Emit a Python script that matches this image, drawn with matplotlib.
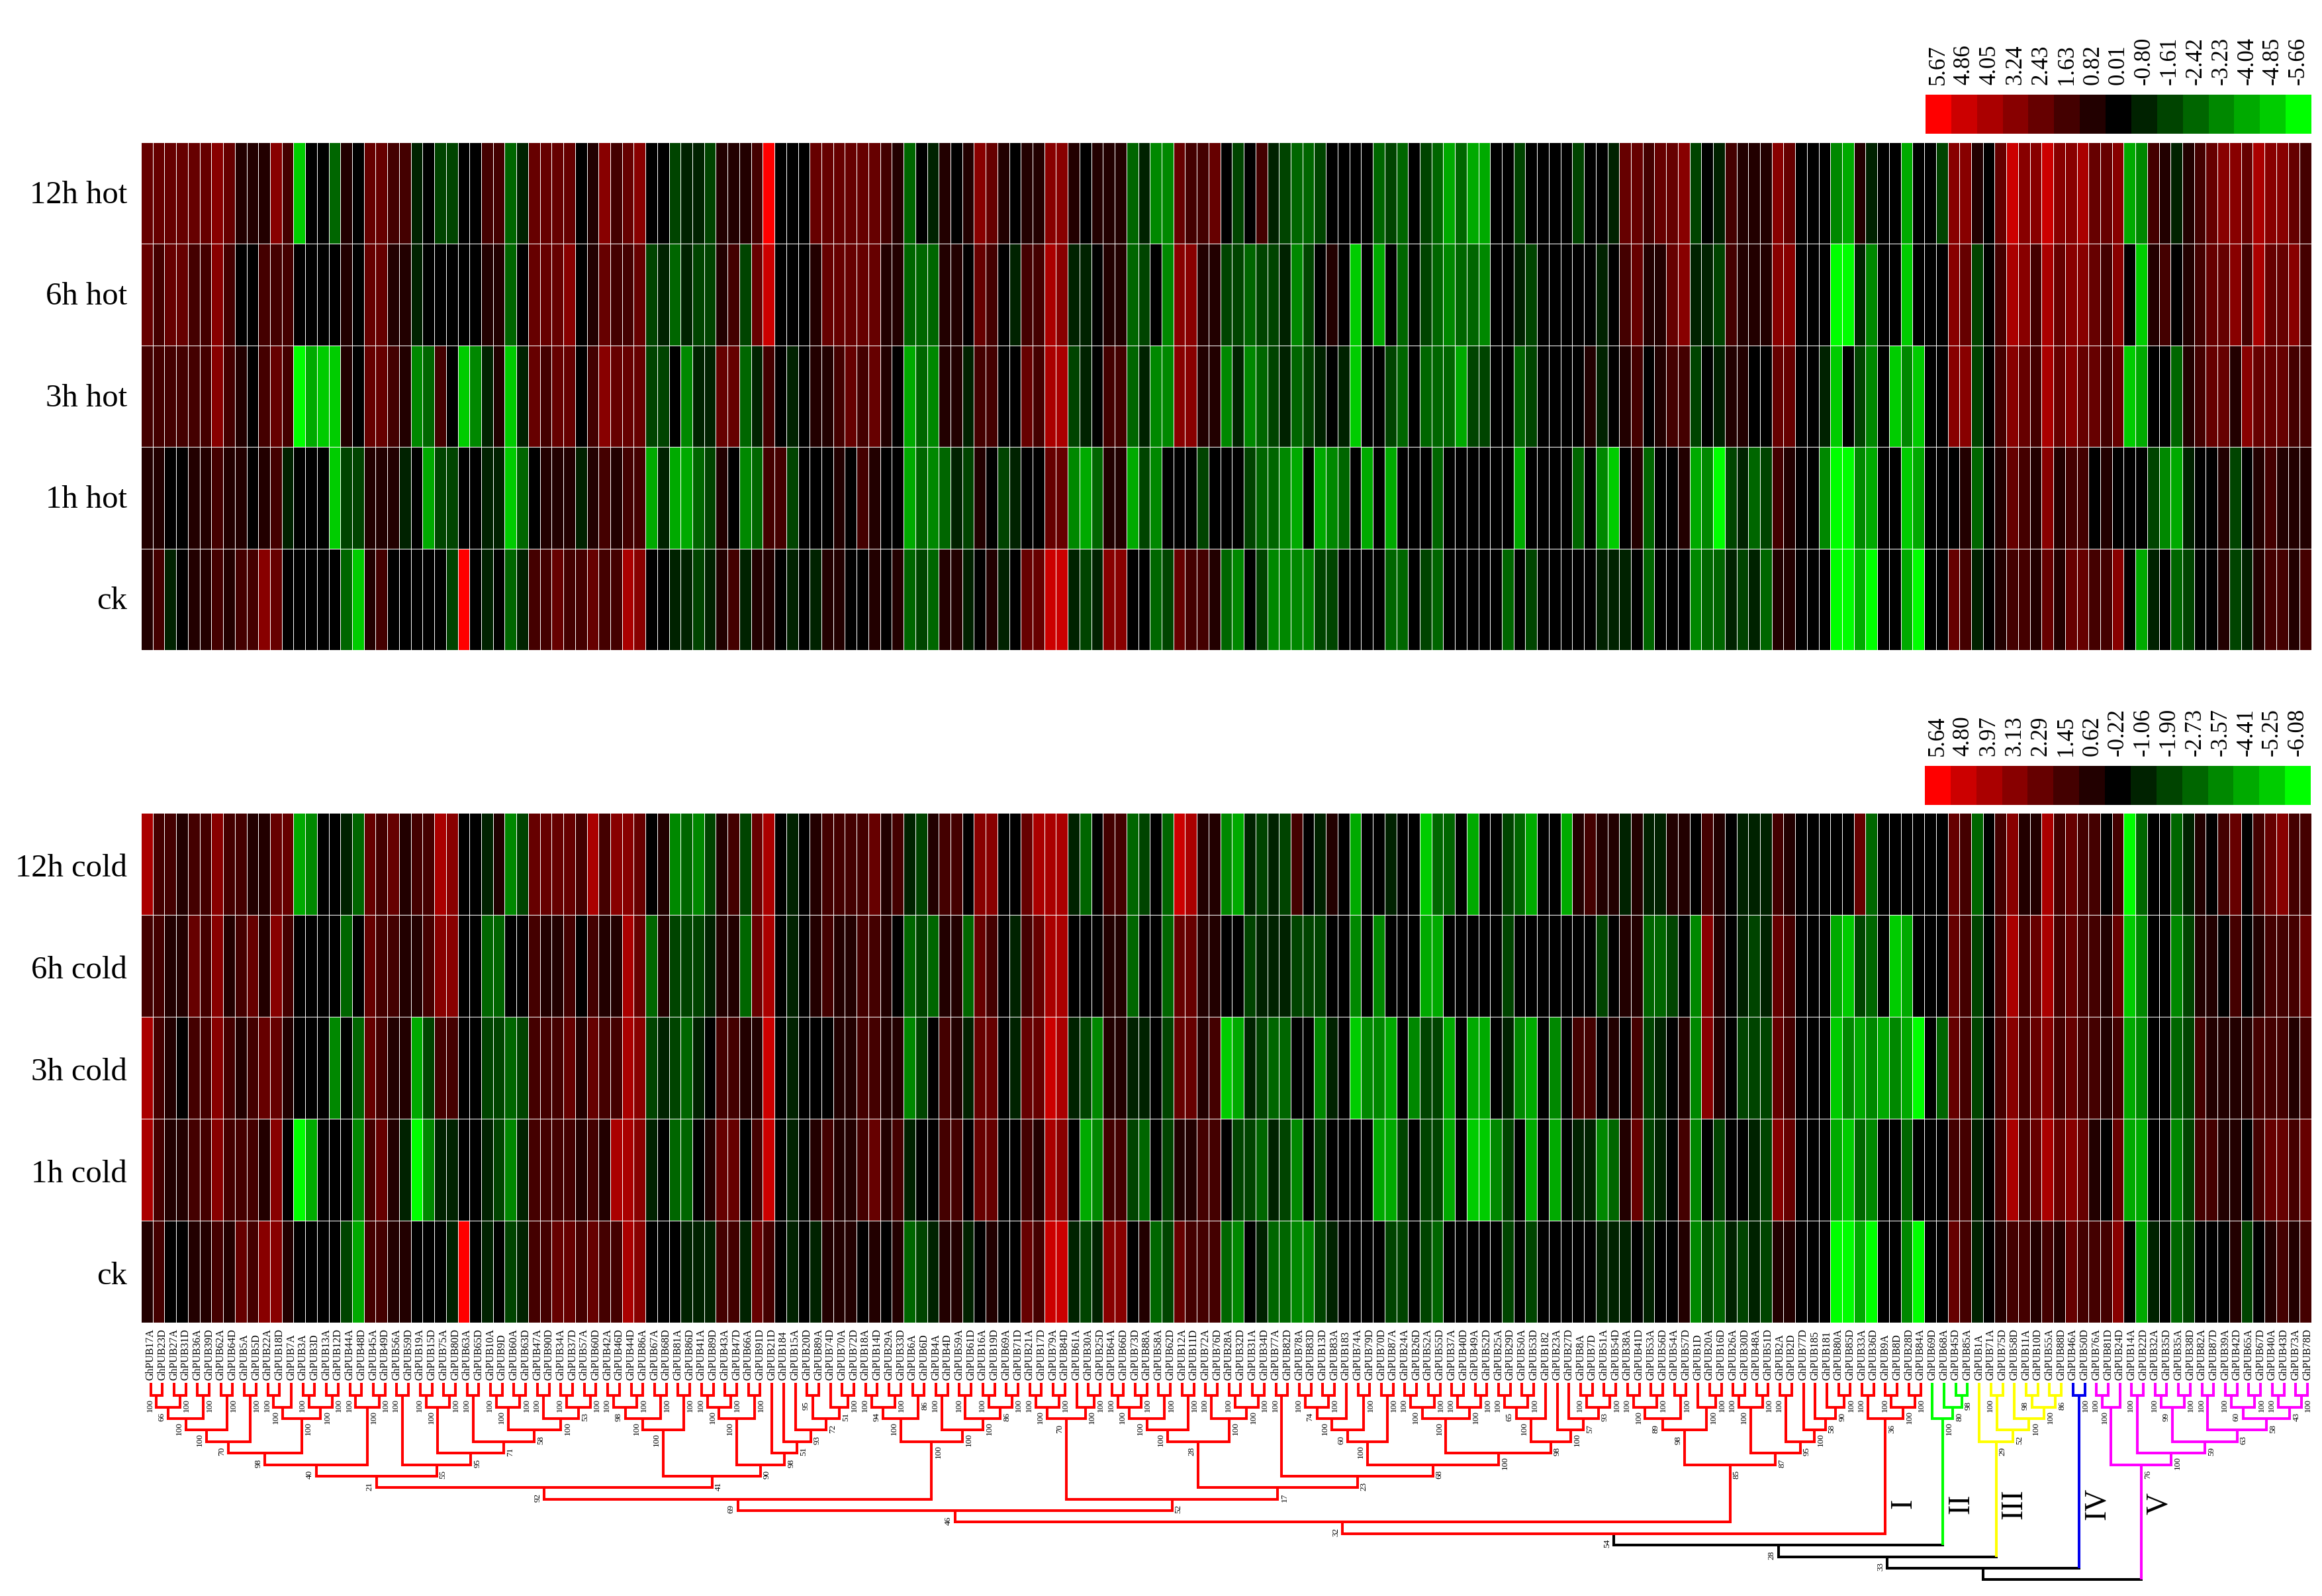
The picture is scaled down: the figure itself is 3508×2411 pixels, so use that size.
import re
import numpy as np
import matplotlib
matplotlib.use("Agg")
import matplotlib.pyplot as plt
from matplotlib.colors import ListedColormap

plt.rcParams["font.family"] = ["Liberation Serif", "DejaVu Serif"]

# heat levels: 7 is the brightest red of the colour key, 0 black, -7 the brightest green
hot_12h = [3,3,3,3,3,3,4,3,1,1,1,4,2,-6,0,0,-3,1,0,3,3,2,2,-1,0,-2,-2,0,0,2,2,-3,-1,3,3,3,3,0,1,4,2,3,4,0,0,-2,-1,-1,-2,1,1,1,2,7,0,0,0,3,3,3,3,
           3,3,2,1,-3,0,-1,1,0,1,4,3,1,0,1,1,4,4,1,0,1,1,1,-3,-1,-4,-4,3,2,2,3,0,-2,0,2,-1,-2,-3,-3,-2,0,0,0,0,-3,-2,-3,0,-2,-3,-5,-3,-5,-5,0,0,-2,0,0,0,0,-2,0,
           0,-1,3,3,2,3,3,4,-2,0,-1,2,1,1,1,4,3,0,0,0,-4,-5,1,-1,0,0,-5,0,0,-2,4,4,1,0,3,6,4,4,6,4,4,5,3,3,4,-5,-4,2,1,-1,1,2,3,4,4,3,5,4,4,3,2]
hot_6h = [3,2,3,3,2,2,4,2,0,0,2,2,2,0,0,0,0,1,0,3,3,1,1,-1,0,0,0,0,0,1,1,-3,0,3,3,3,4,0,1,3,2,2,3,-2,-1,-3,-1,-2,-2,1,2,-2,3,6,0,0,0,1,3,3,3,
          3,3,1,1,-3,-3,-3,1,1,0,3,2,0,-1,2,2,5,4,-1,-1,0,1,1,-3,-2,0,-4,4,4,1,1,-2,-2,-3,-2,-2,-1,-4,-2,0,1,0,-6,0,-5,0,-3,0,-2,-3,-4,-3,-3,-4,0,0,-1,-2,0,0,0,0,0,
          -1,0,2,3,1,1,3,4,-1,-1,-2,2,1,1,1,4,4,0,0,0,-7,-7,-1,-4,0,0,-6,0,0,0,4,3,-2,0,2,5,4,2,5,3,4,4,3,2,4,0,-6,1,2,0,1,2,3,3,4,2,5,3,3,4,2]
hot_3h = [2,2,2,2,2,2,4,2,1,0,2,3,2,-7,-5,-6,-6,1,0,3,3,2,1,-4,-3,2,0,-6,-4,-1,1,-6,-1,3,2,3,3,0,2,4,3,3,3,-2,-2,0,-4,-1,-1,3,3,-3,-1,2,0,-1,0,1,1,2,3,
          2,3,1,0,-5,-3,-4,1,1,-1,2,2,0,0,3,2,5,5,-2,-1,0,2,2,-3,-1,-4,-4,4,4,1,1,-4,-1,-4,-3,-2,-1,-3,-2,-1,0,-1,-6,0,0,-2,-3,0,-3,-3,-3,-5,-2,-2,0,0,-3,-2,0,0,0,0,1,
          -1,0,1,2,0,1,2,2,-2,0,-1,1,1,0,0,3,3,0,0,-1,-6,0,-2,-4,0,-6,-4,-6,0,0,4,4,-2,0,2,4,3,2,5,3,4,3,3,2,3,-6,-5,0,0,-3,1,2,3,3,1,4,3,3,3,2,2]
hot_1h = [1,1,0,0,1,1,2,1,1,0,1,2,-1,0,0,0,-6,-2,-2,1,1,1,-1,0,-5,-2,-2,0,0,-1,-1,-6,-3,0,1,1,1,-1,1,2,1,2,2,-5,-1,-5,-5,-3,-2,1,0,-4,-3,2,2,-2,0,0,0,1,0,
          2,1,0,0,-5,-3,-4,-3,-1,-2,1,0,-2,-1,0,0,3,3,-4,-5,-3,1,1,-5,-2,-4,0,0,0,-2,0,0,0,-2,-3,-3,-4,-5,0,-5,-4,-3,0,-5,0,-5,0,0,0,-3,0,0,0,0,0,0,-5,0,0,0,0,-3,0,
          -4,-6,0,1,-3,0,0,1,-5,-4,-7,-2,-1,-3,-2,2,1,0,0,-4,-7,-7,-4,-5,0,0,-6,-5,0,0,0,1,-3,0,1,3,2,1,4,1,2,2,0,1,0,0,0,-2,-4,-5,-1,0,0,1,-2,0,1,2,1,1,1]
hot_ck = [1,2,-1,0,1,1,2,1,2,2,4,3,0,0,0,0,0,-3,-6,1,2,0,0,0,0,0,-2,7,0,-1,0,-3,-1,2,2,3,2,2,3,2,2,5,4,0,0,-1,-1,-2,-1,1,2,-1,1,1,0,-1,0,-1,1,1,0,
          0,1,0,1,-3,-2,-3,1,1,-1,0,1,-1,0,3,3,6,6,-1,-2,-1,4,4,0,0,-3,-2,3,2,2,1,-3,-4,0,-2,-4,-4,-4,-4,-2,-2,0,0,0,0,-3,-3,0,-2,-3,0,0,0,0,0,-3,0,-2,0,0,0,0,0,
          -1,-1,-1,0,-3,0,0,0,-4,-3,-3,-1,-2,-1,-3,1,1,0,0,0,-7,-7,-5,-7,0,0,-5,-7,0,0,3,2,-1,0,1,2,2,1,3,1,3,3,2,2,4,0,-5,-1,0,-3,-2,0,0,1,-2,-1,1,2,2,1,2]

cold_12h = [5,2,2,1,2,2,4,2,2,1,1,3,3,-5,-4,0,0,-1,-3,3,2,3,1,2,2,5,4,0,0,-1,1,-4,-2,3,3,3,3,2,5,2,4,4,3,0,1,-4,-3,-4,-2,1,2,-2,3,5,0,-1,0,1,2,2,2,
            2,3,1,2,-1,-2,1,2,2,0,4,4,0,0,3,5,5,5,-1,-3,0,2,2,-3,-2,0,-3,6,5,1,1,-4,-5,-1,-2,-1,-2,2,0,-1,1,0,-5,0,0,-1,0,0,-6,-3,-3,0,-5,0,0,-2,-3,-5,0,0,-5,1,2,
            1,1,-1,1,-1,-1,1,1,0,2,1,0,-1,-1,-1,2,1,0,0,0,0,0,3,-3,0,0,0,0,0,0,3,2,-3,0,2,4,1,1,5,2,3,2,2,0,2,-7,-3,0,0,-3,-1,1,0,2,3,0,2,3,4,2,2]
cold_6h = [2,2,1,1,3,2,4,1,2,3,1,4,2,0,0,0,0,-3,0,3,2,2,1,1,2,4,4,0,0,-3,-3,0,0,2,1,1,2,0,2,1,1,5,3,-3,1,-2,-2,-2,-1,1,1,-3,3,5,0,-1,0,1,2,1,1,
           2,2,1,0,-3,-2,-3,1,1,-3,3,2,0,-1,2,3,5,5,0,0,0,1,1,-3,0,0,-3,3,3,1,1,0,0,-2,-1,-1,-1,-2,-2,-2,0,0,-4,0,-4,0,0,0,-5,-5,0,0,0,0,0,-2,0,0,0,0,0,0,0,
           -2,0,1,1,-3,-3,-2,0,-4,4,1,0,-1,-2,-1,3,2,0,0,0,-5,-6,-2,-3,0,-6,-5,0,0,0,3,2,-2,0,2,5,2,3,5,2,3,2,2,1,3,-6,-4,0,0,-4,-2,1,1,0,2,0,1,2,2,2,3]
cold_3h = [5,2,1,0,2,2,4,2,1,2,3,3,1,0,0,0,-4,0,-3,3,2,1,1,-5,-2,2,2,0,0,-2,-2,-3,-2,2,2,2,3,1,3,2,2,5,4,-2,-1,-2,-3,-1,0,2,2,1,1,6,0,-1,0,0,0,1,1,
           2,2,1,1,-4,-2,0,2,1,-1,3,3,0,-1,3,3,6,5,-1,-2,-4,1,1,-1,-1,0,-2,3,3,1,2,-6,-5,-1,-2,-3,-3,0,0,-4,-1,0,-6,-4,-4,-5,0,-4,-2,-2,-5,0,-5,-5,0,-1,-4,-5,0,-4,0,2,2,
           0,1,0,2,-2,-1,0,1,-4,4,1,0,-2,-2,-2,3,2,0,0,0,-6,-4,-5,-4,-5,-4,-5,-7,0,-3,3,2,-2,0,2,4,2,3,4,2,3,2,2,1,2,-5,-4,0,0,-3,-2,2,1,1,1,1,2,2,2,1,2]
cold_1h = [5,2,1,1,2,2,4,2,2,2,1,4,0,-7,-5,0,0,0,-4,2,3,1,-1,-7,-4,-1,-1,0,0,-1,-2,-4,-1,2,2,2,2,1,2,1,5,5,4,-1,0,-3,-3,0,1,3,3,0,2,6,0,-1,0,1,2,1,1,
           2,3,1,2,-1,0,0,2,2,0,3,3,0,0,2,1,5,4,0,-5,-4,2,2,-2,-3,0,-2,1,1,2,2,0,-2,-2,-3,-1,-2,-4,0,-2,0,0,0,0,-5,-5,-2,0,-2,-2,-5,0,-6,-6,-4,-2,0,-5,0,-5,0,-1,-1,
           -4,-3,1,3,-2,-1,0,2,-4,0,-2,0,0,-1,-2,4,3,0,0,0,-5,-6,-3,-4,0,0,-3,0,0,0,2,2,-1,0,2,5,2,3,5,3,4,3,1,0,3,-5,-5,0,0,-4,-2,2,2,1,1,0,2,3,3,2,3]
cold_ck = [1,2,0,0,1,1,2,1,3,2,4,4,1,0,0,0,0,-2,-5,2,2,1,1,0,0,0,-1,7,0,-1,0,-2,-1,2,2,3,3,2,3,2,2,5,4,0,0,0,-1,-1,-1,2,2,-1,3,2,0,-1,0,-1,1,1,1,
           0,1,0,1,-3,-2,-1,1,1,-1,0,1,0,0,3,2,6,6,-1,-2,-1,4,4,0,1,-3,-2,3,2,2,2,-3,-4,0,-1,-3,-3,-4,-4,-2,-1,0,0,0,0,-2,-2,0,-2,-3,0,0,0,0,0,-2,0,-2,0,0,0,0,0,
           -1,-1,-1,0,-1,0,0,1,-4,-2,-3,-1,-2,-1,-2,1,1,0,0,0,-7,-7,-5,-7,0,0,-4,-7,0,0,3,2,-1,0,1,2,2,1,2,1,3,2,2,2,4,0,-5,-1,0,-3,-2,0,0,0,1,-2,0,1,2,1,2]

hot_rows = ["12h hot", "6h hot", "3h hot", "1h hot", "ck"]
cold_rows = ["12h cold", "6h cold", "3h cold", "1h cold", "ck"]
hot_key = ["5.67", "4.86", "4.05", "3.24", "2.43", "1.63", "0.82", "0.01",
           "-0.80", "-1.61", "-2.42", "-3.23", "-4.04", "-4.85", "-5.66"]
cold_key = ["5.64", "4.80", "3.97", "3.13", "2.29", "1.45", "0.62", "-0.22",
            "-1.06", "-1.90", "-2.73", "-3.57", "-4.41", "-5.25", "-6.08"]
key_colors = ["#ff0000", "#cc0000", "#aa0000", "#880000", "#660000", "#440000", "#220000", "#000000",
              "#002200", "#004400", "#006600", "#008800", "#00aa00", "#00cc00", "#00ff00"]

# the tree, gene names without the GhPUB prefix, support values after each bracket
n40 = "(((((((17A,23D)100,(27A,31D)100)66,(36A,39D)100)100,(62A,64D)100)100,(5A,5D)100)70,(((22A,18D)100,7A)100,((3A,3D)100,(13A,12D)100)100)100)98,((44A,48D)100,(45A,49D)100)100)40"
n55 = "((56A,59D)100,(((19A,15D)100,(75A,80D)100)100,((63A,65D)100,(((10A,9D)100,(60A,63D)100)100,((47A,90D)100,((34A,37D)100,(57A,60D)100)53)100)58)71)95)55"
n100c = "((((42A,46D)100,(44D,86A)100)98,(67A,68D)100)100,(81A,86D)100)100"
n90 = "((((41A,89D)100,(43A,47D)100)100,(66A,91D)100)100,(21D,(184,(15A,((20D,89A)95,(74D,(70A,72D)100)51)72)93)51)98)90"
n100d = "((((18A,14D)100,(29A,33D)100)94,(6A,6D)86)100,((4A,4D)100,((59A,61D)100,((16A,19D)100,(69A,71D)100)86)100)100)100"
n70 = "(((21A,17D)100,(79A,84D)100)100,(61A,(30A,25D)100)100)70"
n28 = "(((((64A,66D)100,(73D,88A)100)100,(58A,62D)100)100,(12A,11D)100)100,((72A,76D)100,((28A,32D)100,(31A,34D)100)100)100)28"
n100a = "((((78A,83D)100,(13D,83A)100)74,183)100,(74A,79D)100)60,(70D,87A)100"
n100b = "(((24A,26D)100,(52A,55D)100)100,((37A,40D)100,(49A,52D)100)100)100"
n98 = "((((25A,29D)100,(50A,53D)100)65,182)100,(23A,(27D,((8A,7D)100,(51A,54D)100)93)57)100)98"
n98b = "((((38A,41D)100,(53A,56D)100)100,(54A,57D)100)89,(1D,(20A,16D)100)100)98"
n87 = "(((26A,30D)100,(48A,51D)100)100,((2A,2D)100,(77D,(185,(181,(80A,85D)100)90)58)100)95)87"
n36 = "((33A,36D)100,((9A,8D)100,(28D,84A)100)100)36"

n69 = f"((({n40},{n55})21,({n100c},{n90})41)92,{n100d})69"
n17 = f"({n28},((77A,82D)100,(({n100a})100,({n100b},{n98})100)68)23)17"
n32 = f"(({n69},({n70},{n17})52)46,({n98b},{n87})85)32"

clade_1 = f"({n32},{n36})54"
clade_2 = "(69D,(68A,(45D,85A)98)80)100"
clade_3 = "(1A,((71A,75D)100,(58D,((11A,10D)98,(55A,88D)86)100)100)52)29"
clade_4 = "(46A,50D)100"
clade_5 = "(((76A,81D)100,24D)100,((14A,22D)100,(((32A,35D)100,(35A,38D)100)99,((82A,87D)100,(((39A,42D)100,(65A,67D)100)60,((40A,43D)100,(73A,78D)100)43)58)63)59)100)76"

clade_trees = [clade_1, clade_2, clade_3, clade_4, clade_5]
clade_names = ["I", "II", "III", "IV", "V"]
clade_colors = ["#ff0000", "#00ff00", "#ffff00", "#0000ee", "#ff00ff"]
backbone_support = ["28", "33", None, None]

W, H = 3508, 2411
PX = 0.72  # points per pixel at dpi 100

fig = plt.figure(figsize=(W / 100, H / 100), dpi=100)


def px_axes(x0, y0, x1, y1):
    return fig.add_axes([x0 / W, 1 - y1 / H, (x1 - x0) / W, (y1 - y0) / H])


heat_cmap = ListedColormap(key_colors[::-1])


def draw_heat(box, rows, names, drop):
    ax = px_axes(*box)
    ax.pcolormesh(np.array(rows), cmap=heat_cmap, vmin=-7.5, vmax=7.5, edgecolors="#ffffff", linewidth=0.6)
    ax.invert_yaxis()
    ax.set_xticks([])
    ax.set_yticks([])
    for i, name in enumerate(names):
        ax.annotate(name, (0, i + 0.5), xytext=(-21 * PX, -drop * PX), textcoords="offset points",
                    ha="right", va="center", fontsize=35, annotation_clip=False)
    for s in ax.spines.values():
        s.set_visible(False)


def draw_key(box, labels):
    ax = px_axes(*box)
    ax.pcolormesh(np.arange(15, 0, -1).reshape(1, -1) - 8, cmap=heat_cmap, vmin=-7.5, vmax=7.5)
    ax.set_yticks([])
    ax.xaxis.tick_top()
    ax.set_xticks(np.arange(15) + 0.5, labels, rotation=90, fontsize=25)
    ax.tick_params(axis="x", length=0, pad=11)
    for s in ax.spines.values():
        s.set_visible(False)


draw_heat((213, 215, 3492, 982), [hot_12h, hot_6h, hot_3h, hot_1h, hot_ck], hot_rows, 3)
draw_heat((213, 1228, 3492, 1998), [cold_12h, cold_6h, cold_3h, cold_1h, cold_ck], cold_rows, 7)
draw_key((2909, 143, 3492, 202), hot_key)
draw_key((2908, 1157, 3491, 1216), cold_key)


def parse_newick(text):
    tokens = re.findall(r"[(),]|[^(),]+", text)
    pos = 0

    def read():
        nonlocal pos
        if tokens[pos] != "(":
            pos += 1
            return {"name": tokens[pos - 1], "kids": [], "boot": None}
        pos += 1
        kids = [read()]
        while tokens[pos] == ",":
            pos += 1
            kids.append(read())
        pos += 1
        boot = None
        if pos < len(tokens) and tokens[pos] not in "(),":
            boot = tokens[pos]
            pos += 1
        return {"kids": kids, "boot": boot}

    return read()


genes = []


def layout(node):
    if not node["kids"]:
        node["x"] = len(genes)
        node["level"] = 0
        genes.append("GhPUB" + node["name"])
        return
    for k in node["kids"]:
        layout(k)
    node["x"] = (node["kids"][0]["x"] + node["kids"][-1]["x"]) / 2
    node["level"] = 1 + max(k["level"] for k in node["kids"])


roots = [parse_newick(t) for t in clade_trees]
for r, c in zip(roots, clade_colors):
    r["color"] = c
    r["stem"] = c
roots[0]["stem"] = "#000000"  # red brackets stop at the node, its stem is black

tree = roots[0]
for r, b in zip(roots[1:], backbone_support):
    tree = {"kids": [tree, r], "boot": b, "color": "#000000"}
layout(tree)

ax = px_axes(227.5, 2091, 3486, 2400)
ax.set_xlim(0, len(genes) - 1)
ax.set_ylim(17.79, 0)
LW = 2.9


def draw_node(node, color):
    color = node.get("color", color)
    kids = node["kids"]
    if not kids:
        return
    ax.plot([kids[0]["x"], kids[-1]["x"]], [node["level"]] * 2, color=color, lw=LW,
            solid_capstyle="projecting", clip_on=False)
    for i, k in enumerate(kids):
        start = k["level"] if k["kids"] else -0.1
        ax.plot([k["x"]] * 2, [start, node["level"]], color=k.get("stem", color), lw=LW,
                solid_capstyle="butt", clip_on=False)
        if k["boot"]:
            side = -10 if i == 0 else 10
            ax.annotate(k["boot"], (k["x"], k["level"]), xytext=(side * PX, -15 * PX),
                        textcoords="offset points", rotation=90, ha="center", va="center",
                        fontsize=9.5, annotation_clip=False)
        draw_node(k, color)


draw_node(tree, "#000000")

# the label of clade I sits by the long red stem, not by the clade's own node
label_nodes = [roots[0]["kids"][1]] + roots[1:]
for r, name in zip(label_nodes, clade_names):
    ax.annotate(name, (r["x"], 10.4), xytext=(28 * PX, 0), textcoords="offset points",
                rotation=90, ha="center", va="center", fontsize=33)

ax.xaxis.tick_top()
ax.set_xticks(np.arange(len(genes)), genes, rotation=90, fontsize=11.5)
ax.tick_params(axis="x", length=0, pad=4)
ax.set_yticks([])
for s in ax.spines.values():
    s.set_visible(False)

fig.savefig("out.png", dpi=100)
